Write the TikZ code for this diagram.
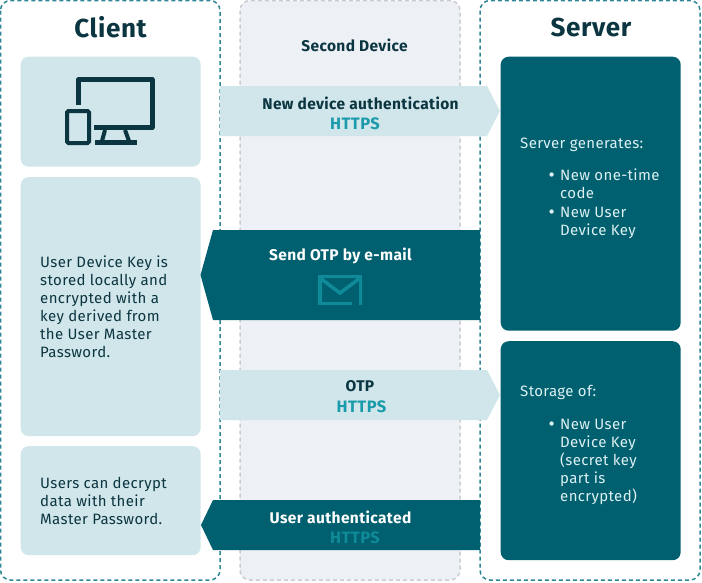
\documentclass[tikz,border=0pt]{standalone}
\usepackage{fontspec}
\usetikzlibrary{positioning}
\setmainfont[LetterSpace=2.5]{Fira Sans}
\definecolor{tealdark}{HTML}{00606F}
\definecolor{teallight}{HTML}{D0E6EA}
\definecolor{inkdark}{HTML}{0B3540}
\definecolor{framedash}{HTML}{2F8796}
\definecolor{graydash}{HTML}{C9CDD1}
\definecolor{grayback}{HTML}{EDF0F4}
\definecolor{httpslight}{HTML}{1A9BAB}
\definecolor{httpsdark}{HTML}{0E8A99}
\definecolor{textpale}{HTML}{DDF0F3}
\begin{document}
\begin{tikzpicture}[x=1pt, y=-1pt,
  frame/.style = {draw=framedash, line width=1.5pt, dash pattern=on 4pt off 3pt, rounded corners=10pt},
  lightbox/.style = {fill=teallight, rounded corners=8pt, inner sep=0pt, anchor=north west},
  darkbox/.style = {fill=tealdark, rounded corners=8pt, inner sep=0pt, anchor=north west},
  title/.style = {font=\fontsize{26}{30}\bfseries\selectfont, text=inkdark},
  head/.style = {font=\fontsize{15.5}{18}\bfseries\selectfont, inner sep=0pt},
  proto/.style = {font=\fontsize{16.5}{18}\bfseries\selectfont, inner sep=0pt},
  bullet/.style = {font=\fontsize{19}{18}\selectfont, text=textpale, anchor=north east, inner sep=0pt},
  bodylight/.style = {font=\fontsize{15}{18}\selectfont, text=inkdark, align=left, anchor=north west, inner sep=0pt},
  bodydark/.style = {font=\fontsize{15}{18}\selectfont, text=textpale, align=left, anchor=north west, inner sep=0pt}]
\useasboundingbox (0,0) rectangle (702,582);
% columns
\draw[frame] (0.5,0.5) rectangle (220,580);
\draw[frame, draw=graydash, fill=grayback] (240,0.5) rectangle (460,580);
\draw[frame] (480,0.5) rectangle (700,580);
\node[title] (client) at (110.5,27) {Client};
\node[head, text=inkdark] (second) at (354.5,45) {Second Device};
\node[title] (server) at (591,27) {Server};
% client boxes
\node[lightbox, minimum width=180pt, minimum height=110pt] (c1) at (20.5,56.5) {};
\node[lightbox, minimum width=180pt, minimum height=259pt] (c2) at (20.5,177) {};
\node[lightbox, minimum width=180pt, minimum height=109pt] (c3) at (20.5,446) {};
% server boxes
\node[darkbox, minimum width=180pt, minimum height=274pt] (s1) at (500.5,56.5) {};
\node[darkbox, minimum width=180pt, minimum height=219pt] (s2) at (500.5,341) {};
% arrows
\fill[teallight] (220,86) -- (487,86) -- (500,111) -- (487,136) -- (220,136) -- cycle;
\fill[tealdark] (480,230) -- (213,230) -- (200.5,275) -- (213,320) -- (480,320) -- cycle;
\fill[teallight] (220,370) -- (487,370) -- (500,395) -- (487,420) -- (220,420) -- cycle;
\fill[tealdark] (480,500) -- (213,500) -- (201,525) -- (213,550) -- (480,550) -- cycle;
% arrow labels
\node[head, text=inkdark] (a1) at (360.5,103) {New device authentication};
\node[proto, text=httpslight] (a1p) at (355,124) {HTTPS};
\node[head, text=white] (a2) at (340.5,256) {Send OTP by e-mail};
\node[head, text=inkdark] (a3) at (360,386) {OTP};
\node[proto, text=httpslight] (a3p) at (361.5,407) {HTTPS};
\node[head, text=white] (a4) at (340.5,517) {User authenticated};
\node[proto, text=httpsdark] (a4p) at (355,538) {HTTPS};
% client text
\node[bodylight] (t2) at (40,254.5) {\strut User Device Key is\\stored locally and\\encrypted with a\\key derived from\\the User Master\\Password.};
\node[bodylight] (t3) at (40,475.5) {\strut Users can decrypt\\data with their\\Master Password.};
% server text
\node[bodydark] (t4) at (520,135.5) {\strut Server generates:};
\node[bodydark] (t5) at (560,168) {\strut New one-time\\code};
\node[bullet] (b5) at ([xshift=-5pt,yshift=-1pt]t5.north west) {\strut •};
\node[bodydark] (t6) at (560,204.5) {\strut New User\\Device Key};
\node[bullet] (b6) at ([xshift=-5pt,yshift=-1pt]t6.north west) {\strut •};
\node[bodydark] (t7) at (520,383.5) {\strut Storage of:};
\node[bodydark] (t8) at (560,416.5) {\strut New User\\Device Key\\(secret key\\part is\\encrypted)};
\node[bullet] (b8) at ([xshift=-5pt,yshift=-1pt]t8.north west) {\strut •};
% device icon
\draw[inkdark, line width=5pt, line join=round] (78.5,105) -- (78.5,79.5) -- (152,79.5) -- (152,127.5) -- (94,127.5);
\draw[inkdark, line width=4pt, rounded corners=1.5pt] (67,111) rectangle (89,143);
\fill[inkdark] (95,140) rectangle (137,145);
\draw[inkdark, line width=4pt] (105,130) -- (102,141) (125,130) -- (129,141);
% envelope icon
\draw[httpsdark, line width=3.5pt] (352,303.5) -- (320,303.5) -- (320,276.5) -- (360.5,276.5) -- (360.5,305);
\draw[httpsdark, line width=3.5pt] (320,278) -- (340,293) -- (360,278);
\end{tikzpicture}
\end{document}
